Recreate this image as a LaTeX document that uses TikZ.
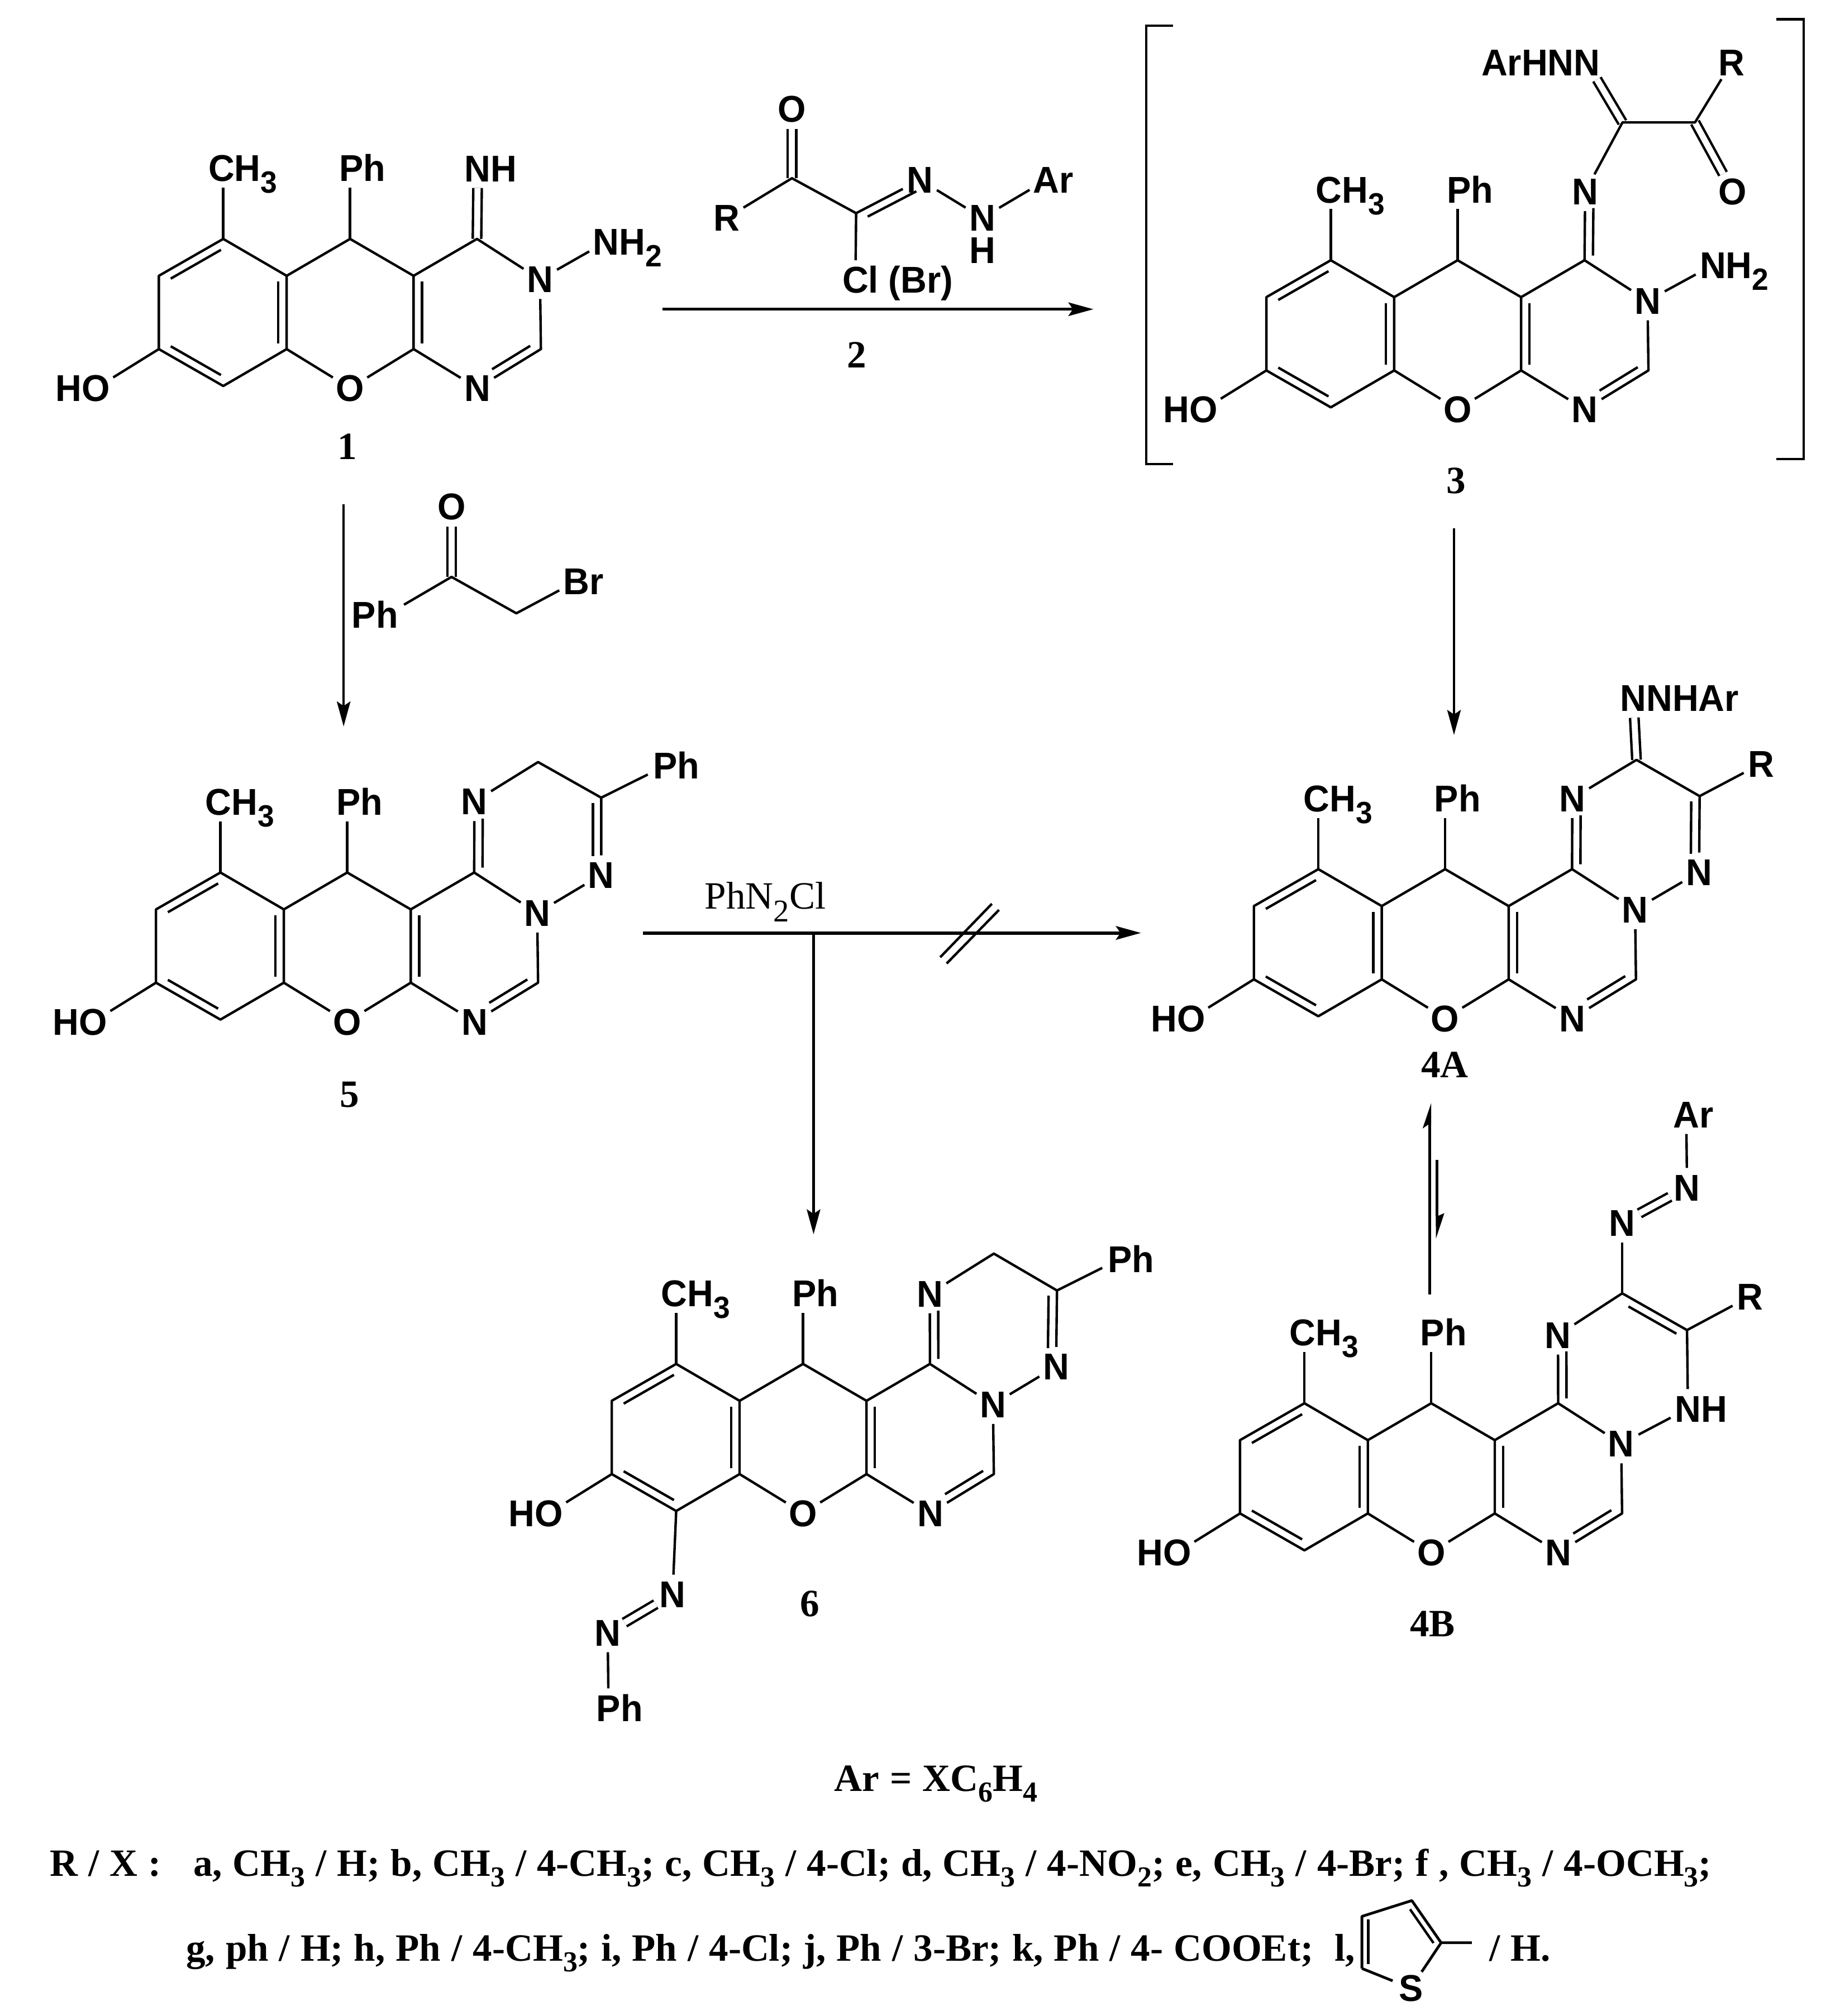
\documentclass[tikz,border=0pt]{standalone}
\usepackage{fontspec}
\setmainfont{Liberation Serif}
\newfontfamily\atomf[FakeStretch=.97]{Liberation Sans}
\usetikzlibrary{calc,arrows.meta,backgrounds}
\newcommand{\asub}[1]{\raisebox{-2.6pt}{\fontsize{6.8}{6}\selectfont #1}}
\newcommand{\tsub}[1]{\raisebox{-2.4pt}{\fontsize{6.4}{6}\selectfont #1}}
\tikzset{
  x=0.01cm,y=-0.01cm,
  atom/.style={circle,inner sep=0pt,minimum size=.29cm,text height=.205cm,text depth=0pt,
     font=\atomf\bfseries\fontsize{8.25}{10}\selectfont},
  bond/.style={line width=.019cm,line join=round,black},
  dbond/.style={line width=.019cm,double=white,double distance=.047cm,black},
  cpd/.style={inner sep=0pt,font=\bfseries\fontsize{8.54}{10}\selectfont},
  plain/.style={inner sep=0pt,anchor=base west,font=\fontsize{8.54}{10}\selectfont},
  info/.style={inner sep=0pt,anchor=base west,font=\bfseries\fontsize{8.54}{10}\selectfont,
     execute at begin node={\spaceskip=2.35pt\relax}},
  arr/.style={line width=.019cm,-{Stealth[length=.194cm,width=.105cm,inset=.035cm]}},
}
\def\inboff{0.065cm}
\newcommand{\inb}[4]{\draw[bond] ($(#1)!#3!(#2)!\inboff!90:(#2)$) -- ($(#1)!#4!(#2)!\inboff!-90:(#1)$);}
\newcommand{\DB}[2]{\begin{pgfonlayer}{background}\draw[dbond] (#1) -- (#2);\end{pgfonlayer}}
\newcommand{\core}[3]{%
 \begin{scope}[shift={(#2,#3)}]
  \coordinate (#1a) at (-98.6,0);
  \coordinate (#1b) at (-148.7,28.7);
  \coordinate (#1c) at (-148.7,85.7);
  \coordinate (#1d) at (-98.6,114.4);
  \coordinate (#1e) at (-49.3,85.7);
  \coordinate (#1f) at (-49.3,28.7);
  \coordinate (#1g) at (0,0);
  \coordinate (#1h) at (49.4,28.7);
  \coordinate (#1i) at (49.4,85.7);
  \coordinate (#1j) at (98.7,0);
  \coordinate (#1l) at (148.4,85.7);
  \node[atom] (#1k) at (147.7,31.5) {N};
  \node[atom] (#1m) at (99,116) {N};
  \node[atom] (#1o) at (0,116) {O};
  \node[atom] (#1ho) at (-197.5,116) {\llap{H}O};
  \node[atom] (#1me) at (-100,-55) {C\rlap{H\asub{3}}};
  \node[atom] (#1ph) at (1,-55) {P\rlap{h}};
 \end{scope}
 \draw[bond] (#1a) -- (#1b) -- (#1c) -- (#1d) -- (#1e) -- (#1f) -- (#1a);
 \draw[bond] (#1f) -- (#1g) -- (#1h) -- (#1i);
 \draw[bond] (#1e) -- (#1o) -- (#1i) -- (#1m) -- (#1l) -- (#1k) -- (#1j) -- (#1h);
 \draw[bond] (#1c) -- (#1ho);
 \draw[bond] (#1a) -- (#1a |- #1me.south);
 \draw[bond] (#1g) -- (#1g |- #1ph.south);
 \inb{#1a}{#1b}{.1}{.88}
 \inb{#1c}{#1d}{.12}{.9}
 \inb{#1e}{#1f}{.08}{.92}
 \inb{#1h}{#1i}{.08}{.92}
 \inb{#1m}{#1l}{.3}{.9}
}
\begin{document}
\begin{tikzpicture}
\useasboundingbox (0,0) rectangle (1430.75,1568);

% ---------- 1
\core{sa}{272.2}{185.8}
\node[atom] (sanh) at (371.5,131) {N\rlap{H}};
\node[atom] (san) at (471.4,188) {N\rlap{H\asub{2}}};
\DB{saj}{sanh}
\draw[bond] (sak) -- (san);
\node[cpd] (la) at (270,347.3) {1};

% ---------- reagent 2
\node[atom] (rO) at (615.8,84.6) {O};
\coordinate (rC) at (615.8,138.6);
\node[atom] (rR) at (565.1,169.4) {R};
\coordinate (rD) at (665.7,165.8);
\node[atom] (rN) at (715.5,139.9) {N};
\node[atom] (rM) at (763.8,169.4) {N};
\node[atom] (rH) at (763.8,194.7) {H};
\node[atom] (rA) at (813.7,139.9) {A\rlap{r}};
\node[atom] (rX) at (665.2,217.6) {C\rlap{l (Br)}};
\DB{rC}{rO}
\draw[bond] (rR) -- (rC) -- (rD) -- (rN);
\inb{rN}{rD}{.12}{.88}
\draw[bond] (rN) -- (rM) -- (rA);
\draw[bond] (rD) -- (rX);
\coordinate (a2s) at (515,240.5);
\coordinate (a2e) at (850.2,240.5);
\draw[arr,line width=.021cm] (a2s) -- (a2e);
\node[cpd] (lb) at (666.3,276) {2};

% ---------- 3
\core{sc}{1133.4}{202.4}
\node[atom] (scx) at (1232.6,149) {N};
\coordinate (scp) at (1261.6,95.2);
\coordinate (scq) at (1318,95.2);
\node[atom] (scy) at (1234,48.6) {\llap{ArHN}N};
\node[atom] (scr) at (1346.5,48.6) {R};
\node[atom] (scO) at (1347.3,149) {O};
\node[atom] (scn) at (1331.9,206.2) {N\rlap{H\asub{2}}};
\draw[bond] (scj) -- (scx);
\inb{scx}{scj}{.24}{.93}
\draw[bond] (scx) -- (scp) -- (scq) -- (scr);
\DB{scp}{scy}
\DB{scq}{scO}
\draw[bond] (sck) -- (scn);
\coordinate (bl1) at (912,20);
\coordinate (bl2) at (891.3,20);
\coordinate (bl3) at (891.3,360.8);
\coordinate (bl4) at (912,360.8);
\draw[bond,line join=miter] (bl1) -- (bl2) -- (bl3) -- (bl4);
\coordinate (br1) at (1381.3,15);
\coordinate (br2) at (1402.5,15);
\coordinate (br3) at (1402.5,357);
\coordinate (br4) at (1381.3,357);
\draw[bond,line join=miter] (br1) -- (br2) -- (br3) -- (br4);
\node[cpd] (lc) at (1132.3,374) {3};
\coordinate (a3s) at (1130.6,411);
\coordinate (a3e) at (1130.6,571.6);
\draw[arr] (a3s) -- (a3e);

% ---------- 1 to 5 with phenacyl bromide
\coordinate (a1s) at (267.2,392.4);
\coordinate (a1e) at (267.2,565);
\draw[arr] (a1s) -- (a1e);
\node[atom] (pO) at (351.1,393.8) {O};
\coordinate (pC) at (351.1,448.7);
\coordinate (pD) at (401.5,477);
\node[atom] (pB) at (448.3,452) {B\rlap{r}};
\node[atom] (pP) at (301,478) {\llap{P}h};
\DB{pC}{pO}
\draw[bond] (pP) -- (pC) -- (pD) -- (pB);

% ---------- 5
\core{se}{270}{678.6}
\node[atom] (seu) at (368.9,623.4) {N};
\coordinate (sev) at (418.4,592.7);
\coordinate (sew) at (467.5,620.4);
\node[atom] (sep) at (517.3,595.6) {P\rlap{h}};
\node[atom] (sex) at (467.5,680.4) {N};
\draw[bond] (sej) -- (seu) -- (sev) -- (sew) -- (sep);
\draw[bond] (sew) -- (sex) -- (sek);
\inb{seu}{sej}{.24}{.93}
\inb{sex}{sew}{.24}{.93}
\node[cpd] (le) at (271.7,851.6) {5};

% ---------- 5 to 4A / 6
\coordinate (a5s) at (500.1,725.6);
\coordinate (a5e) at (887.2,725.6);
\draw[arr,line width=.026cm] (a5s) -- (a5e);
\coordinate (a6s) at (632.6,725.6);
\coordinate (a6e) at (632.6,960);
\draw[arr] (a6s) -- (a6e);
\node[plain] (lph) at (547.4,707) {PhN\raisebox{-2.8pt}{\fontsize{7}{6}\selectfont 2}Cl};
\coordinate (k1a) at (771.3,702.9);
\coordinate (k1b) at (731.1,744.5);
\coordinate (k2a) at (776.8,707.7);
\coordinate (k2b) at (736.1,749.4);
\draw[bond] (k1a) -- (k1b);
\draw[bond] (k2a) -- (k2b);

% ---------- 4A
\core{sf}{1123.7}{676}
\node[atom] (sfu) at (1222.6,621) {N};
\coordinate (sfv) at (1272.5,591);
\coordinate (sfw) at (1321.6,619.2);
\node[atom] (sfr) at (1369.3,594) {R};
\node[atom] (sfx) at (1321.2,678.3) {N};
\node[atom] (sfy) at (1270,543) {N\rlap{NHAr}};
\draw[bond] (sfj) -- (sfu) -- (sfv) -- (sfw) -- (sfr);
\draw[bond] (sfw) -- (sfx) -- (sfk);
\inb{sfu}{sfj}{.24}{.93}
\inb{sfx}{sfw}{.24}{.93}
\DB{sfv}{sfy}
\node[cpd] (lf) at (1123.5,828) {4A};

% ---------- equilibrium
\coordinate (equs) at (1111.7,1006.9);
\coordinate (eque) at (1111.7,874.5);
\coordinate (eqds) at (1117.4,902.3);
\coordinate (eqde) at (1117.4,946);
\draw[bond,line width=.02cm] (equs) -- (eque);
\draw[bond,line width=.02cm] (eqds) -- (eqde);
\fill (1112.9,857.8) -- (1106.2,877.7) -- (1110.8,874.5) -- (1112.8,874.5) -- cycle;
\fill (1116.6,963.2) -- (1123.1,943.5) -- (1118.4,945.6) -- (1116.4,945.6) -- cycle;

% ---------- 4B
\core{sg}{1112.9}{1091.4}
\node[atom] (sgu) at (1211.5,1038.3) {N};
\coordinate (sgv) at (1261.4,1005.9);
\coordinate (sgw) at (1311.8,1034.5);
\node[atom] (sgr) at (1360.6,1008.4) {R};
\node[atom] (sgx) at (1312.5,1095.6) {N\rlap{H}};
\node[atom] (sgy) at (1261.4,951) {N};
\node[atom] (sgz) at (1311.8,923.6) {N};
\node[atom] (sgA) at (1311.2,866.8) {A\rlap{r}};
\draw[bond] (sgj) -- (sgu) -- (sgv) -- (sgw) -- (sgr);
\draw[bond] (sgw) -- (sgx) -- (sgk);
\inb{sgu}{sgj}{.24}{.93}
\inb{sgw}{sgv}{.1}{.84}
\draw[bond] (sgv) -- (sgy);
\DB{sgy}{sgz}
\draw[bond] (sgz) -- (sgA);
\node[cpd] (lg) at (1114,1263) {4B};

% ---------- 6
\core{sh}{624.4}{1060.8}
\node[atom] (shu) at (723,1006.2) {N};
\coordinate (shv) at (772.8,975);
\coordinate (shw) at (821.9,1003.7);
\node[atom] (shp) at (870.7,979.3) {P\rlap{h}};
\node[atom] (shx) at (821.2,1062.8) {N};
\draw[bond] (shj) -- (shu) -- (shv) -- (shw) -- (shp);
\draw[bond] (shw) -- (shx) -- (shk);
\inb{shu}{shj}{.24}{.93}
\inb{shx}{shw}{.24}{.93}
\node[atom] (shy) at (523,1239.9) {N};
\node[atom] (shz) at (472.5,1269.8) {N};
\node[atom] (shP) at (473.2,1328.4) {P\rlap{h}};
\draw[bond] (shd) -- (shy);
\DB{shy}{shz}
\draw[bond] (shz) -- (shP);
\node[cpd] (lh) at (629.5,1247.3) {6};

% ---------- legend
\node[info] (t1) at (648,1393) {Ar = XC\tsub{6}H\tsub{4}};
\node[info] (t2) at (38.3,1459) {R / X :\ \ \ a, CH\tsub{3} / H; b, CH\tsub{3} / 4-CH\tsub{3}; c, CH\tsub{3} / 4-Cl; d, CH\tsub{3} / 4-NO\tsub{2}; e, CH\tsub{3} / 4-Br; f , CH\tsub{3} / 4-OCH\tsub{3};};
\node[info] (t3) at (144,1525) {g, ph / H; h, Ph / 4-CH\tsub{3}; i, Ph / 4-Cl; j, Ph / 3-Br; k, Ph / 4- COOEt;\ \ l,};
\node[info] (t4) at (1157.5,1525) {/ H.};
\coordinate (tha) at (1059,1490.5);
\coordinate (thb) at (1097.8,1478.2);
\coordinate (thc) at (1120.6,1511);
\coordinate (thd) at (1059,1531);
\coordinate (the) at (1144.5,1511);
\node[atom] (ths) at (1097,1546.3) {S};
\draw[bond,line width=.021cm] (thd) -- (tha) -- (thb) -- (thc) -- (the);
\draw[bond,line width=.021cm] (thd) -- (ths) -- (thc);
\def\inboff{0.05cm}
\inb{tha}{thd}{.06}{.92}
\inb{thc}{thb}{.08}{.88}
\end{tikzpicture}
\end{document}
